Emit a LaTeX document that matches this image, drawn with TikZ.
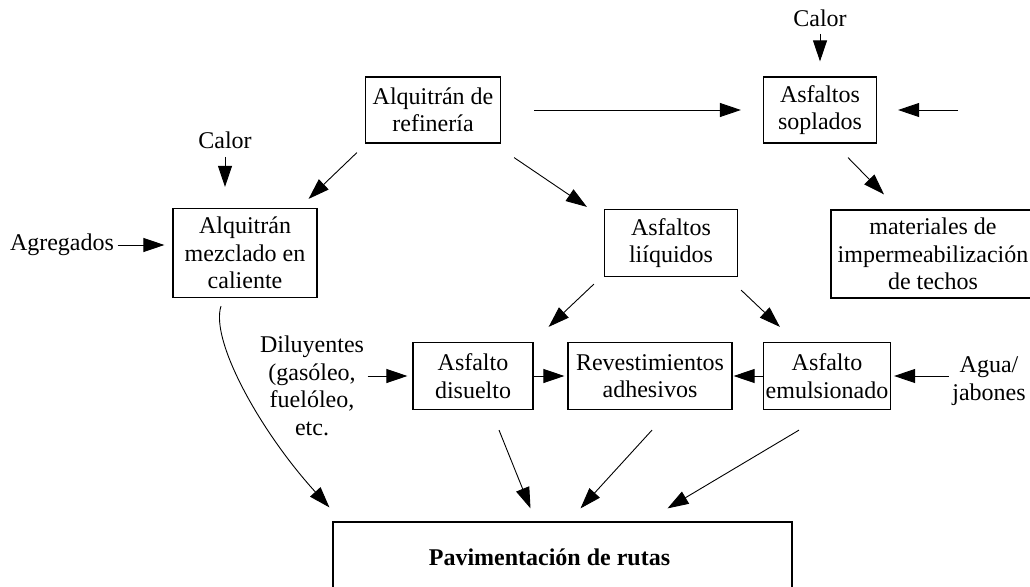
\documentclass[tikz,border=0pt]{standalone}
\usepackage{fontspec}
\setmainfont{Liberation Serif}
\usetikzlibrary{arrows.meta}

\begin{document}
\begin{tikzpicture}[x=1pt,y=-1pt,
    every node/.style={font=\fontsize{24}{27.5}\selectfont, align=center},
    box/.style={draw, line width=1.2pt, inner sep=2pt},
    conn/.style={line width=0.9pt, -{Triangle[length=21pt,width=14pt]}}]
  \useasboundingbox (0,0) rectangle (1030,586);
  \node[box, minimum width=135pt, minimum height=66pt] (ref) at (433,110) {Alquitrán de\\refinería};
  \node[box, minimum width=113pt, minimum height=66pt] (sop) at (820,110) {Asfaltos\\soplados};
  \node[box, minimum width=144pt, minimum height=89pt] (mez) at (245,253) {Alquitrán\\mezclado en\\caliente};
  \node[box, minimum width=133pt, minimum height=67pt] (liq) at (671,243) {Asfaltos\\liíquidos};
  \node[box, minimum width=204pt, minimum height=88pt] (mat) at (933,254) {materiales de\\impermeabilización\\de techos};
  \node[box, minimum width=120pt, minimum height=67pt] (dis) at (473,376) {Asfalto\\disuelto};
  \node[box, minimum width=164pt, minimum height=67pt] (rev) at (650,376) {Revestimientos\\adhesivos};
  \node[box, minimum width=127pt, minimum height=67pt] (emu) at (827,376) {Asfalto\\emulsionado};
  \node[box, minimum width=459pt, minimum height=70pt] (pav) at (562.5,557) {\hspace*{-26pt}\textbf{Pavimentación de rutas}};
  \node (calA) at (820,18) {Calor};
  \node (calB) at (225,140) {Calor};
  \node (agr) at (62,245) {Agregados};
  \node (dil) at (312,386) {Diluyentes\\(gasóleo,\\fuelóleo,\\etc.};
  \node (agua) at (989,381) {Agua/\\jabones};
  \coordinate (aire) at (958,110);
  \path[conn]
    (calA) edge[shorten <=4pt, shorten >=15pt] (sop)
    (aire) edge[shorten >=21pt] (sop.east)
    (ref.east) edge[shorten <=33pt, shorten >=22pt] (sop.west)
    (calB) edge[shorten <=5pt, shorten >=21pt] (calB |- mez.north)
    (agr.east) edge[shorten >=8pt] (agr.east -| mez.west)
    ([shift={(-8,9)}]ref.south west) edge ([shift={(-9,-9)}]mez.north east)
    ([shift={(13,14)}]ref.south east) edge ([shift={(-17,-2)}]liq.north west)
    ([shift={(28,14)}]sop.south) edge ([shift={(-49,-15)}]mat.north)
    ([shift={(-10,7)}]liq.south west) edge ([shift={(15,-15)}]dis.north east)
    ([shift={(3,13)}]liq.south east) edge ([shift={(17,-15)}]emu.north west)
    (dil.east |- dis.west) edge[shorten >=5pt] (dis.west)
    (dis.east) edge[shorten >=3pt] (rev.west)
    (emu.west) edge[shorten >=1pt] (rev.east)
    (agua.west |- emu.east) edge[shorten >=3pt] (emu.east)
    ([shift={(26,20)}]dis.south) edge ([shift={(-32,-13)}]pav.north)
    ([shift={(2,20)}]rev.south) edge ([shift={(18,-13)}]pav.north)
    ([shift={(-28,20)}]emu.south) edge ([shift={(105,-13)}]pav.north);
  \draw[conn] ([shift={(-24,8)}]mez.south) .. controls +(-11,34) and +(-70,-77) .. ([shift={(-3,-14)}]pav.north west);
\end{tikzpicture}
\end{document}
